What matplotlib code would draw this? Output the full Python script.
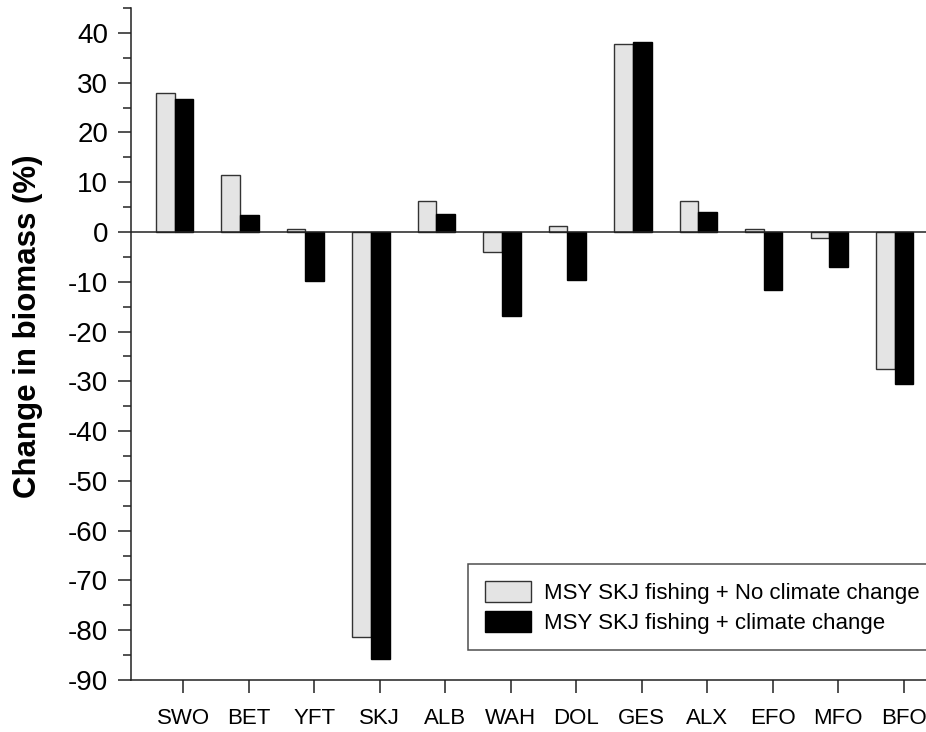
import numpy as np
import matplotlib
matplotlib.use("Agg")
from matplotlib import pyplot as plt
from matplotlib.ticker import MultipleLocator

plt.rcParams['font.family'] = ['Liberation Sans', 'DejaVu Sans']
plt.rcParams['axes.unicode_minus'] = False

species = ["SWO", "BET", "YFT", "SKJ", "ALB", "WAH", "DOL", "GES", "ALX", "EFO", "MFO", "BFO"]
no_climate = [28.0, 11.5, 0.7, -81.4, 6.2, -4.0, 1.3, 37.7, 6.3, 0.6, -1.2, -27.6]
climate = [26.8, 3.4, -9.8, -85.7, 3.6, -16.9, -9.6, 38.1, 4.1, -11.7, -7.0, -30.5]
labels = ["MSY SKJ fishing + No climate change", "MSY SKJ fishing + climate change"]

fig = plt.figure(figsize=(9.26, 7.32), dpi=100)
# axes run past the right edge, like the cropped original
ax = fig.add_axes([131/926, 52/732, 825/926, 672/732])

x = np.arange(len(species))
w = 0.285
ax.bar(x - 0.135 - w/2, no_climate, w, color='#e4e4e4', edgecolor='#333333', linewidth=1.0, label=labels[0])
ax.bar(x - 0.135 + w/2, climate, w, color='black', edgecolor='black', linewidth=1.0, label=labels[1])
ax.axhline(0, color='#222222', linewidth=1.1, zorder=3)

ax.set_xlim(-0.8, 11.8)
ax.set_ylim(-90, 45)
ax.set_xticks(x)
ax.set_xticklabels(species, fontsize=16)
ax.yaxis.set_major_locator(MultipleLocator(10))
ax.yaxis.set_minor_locator(MultipleLocator(5))
ax.tick_params(axis='y', which='major', labelsize=20, length=9.5, width=1.1, pad=7, color='#222222')
ax.tick_params(axis='y', which='minor', length=5.5, width=1.1, color='#222222')
ax.tick_params(axis='x', which='major', length=9.5, width=1.1, pad=11, color='#222222')

for s in ['top', 'right']:
    ax.spines[s].set_visible(False)
for s in ['left', 'bottom']:
    ax.spines[s].set_linewidth(1.1)
    ax.spines[s].set_color('#222222')

fig.text(28/926, 1 - 326/732, "Change in biomass (%)", rotation=90, fontsize=22.5,
         fontweight='bold', ha='center', va='center')

leg = ax.legend(loc='upper left', bbox_to_anchor=(468/926, 1 - 654/732, 480/926, 90/732),
                bbox_transform=fig.transFigure, mode='expand', borderaxespad=0,
                fontsize=16, frameon=True, fancybox=False, handlelength=2.1,
                handleheight=1.1, handletextpad=0.55, labelspacing=0.3, borderpad=0.75)
leg.get_frame().set_edgecolor('#222222')
leg.get_frame().set_linewidth(1.1)

plt.savefig("out.png", dpi=100)
